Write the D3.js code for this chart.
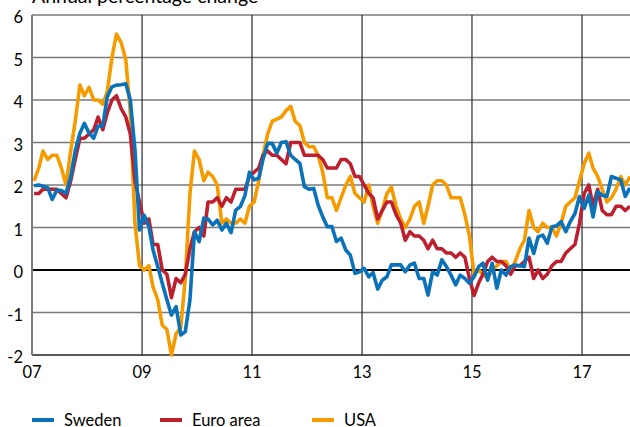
<!DOCTYPE html>
<html>
<head>
<meta charset="utf-8">
<script src="https://cdn.jsdelivr.net/npm/d3@7"></script>
<style>
  html, body { margin: 0; padding: 0; background: #fff; }
  svg { display: block; font-family: Lato, "Open Sans", sans-serif; }
</style>
</head>
<body>
<div id="chart"></div>
<script>
// ============================================================
// Inflation: Sweden / Euro area / USA, annual percentage change
// monthly data, Jan 2007 - Nov 2017
// ============================================================

const seriesNames = ['Sweden', 'Euro area', 'USA'];
const seriesColors = ['#0a72b8', '#bd1f2e', '#f59b00'];

const yTicks = [-2, -1, 0, 1, 2, 3, 4, 5, 6];
const xTickYears = [2007, 2009, 2011, 2013, 2015, 2017];
const xTickLabels = ['07', '09', '11', '13', '15', '17'];

const sweden = [
  1.98, 2.00, 1.97, 1.94, 1.66, 1.88, 1.87, 1.80, 2.20, 2.80, 3.22, 3.45,
  3.22, 3.10, 3.39, 3.39, 4.08, 4.31, 4.35, 4.36, 4.38, 4.00, 2.82, 0.94,
  1.29, 1.02, 0.47, 0.08, -0.31, -0.70, -1.06, -0.86, -1.53, -1.45, -0.70, 0.90,
  0.67, 1.22, 1.20, 1.06, 1.17, 0.94, 1.10, 0.88, 1.41, 1.49, 1.75, 2.30,
  2.12, 2.16, 2.60, 2.98, 2.98, 2.75, 3.00, 3.02, 2.70, 2.60, 2.51, 1.96,
  1.90, 1.92, 1.53, 1.25, 1.02, 1.02, 0.67, 0.75, 0.47, 0.35, -0.08, -0.04,
  0.04, -0.16, -0.06, -0.45, -0.24, -0.16, 0.12, 0.12, 0.12, -0.04, 0.12, 0.16,
  -0.20, -0.20, -0.59, -0.04, -0.12, 0.24, 0.08, -0.12, -0.35, -0.12, -0.20, -0.31,
  -0.16, 0.08, 0.16, -0.24, 0.16, -0.43, 0.00, -0.12, 0.08, 0.12, 0.10, 0.08,
  0.75, 0.39, 0.78, 0.82, 0.63, 1.02, 1.04, 1.14, 0.90, 1.14, 1.33, 1.73,
  1.45, 1.76, 1.25, 1.84, 1.76, 1.73, 2.20, 2.16, 2.12, 1.73, 1.93
];

const euroArea = [
  1.8, 1.8, 1.9, 1.9, 1.9, 1.9, 1.8, 1.7, 2.1, 2.6, 3.1, 3.1,
  3.2, 3.3, 3.6, 3.3, 3.7, 4.0, 4.1, 3.8, 3.6, 3.2, 2.1, 1.6,
  1.1, 1.2, 0.6, 0.6, 0.0, -0.1, -0.65, -0.2, -0.3, -0.1, 0.5, 0.9,
  1.0, 0.8, 1.6, 1.6, 1.7, 1.5, 1.7, 1.6, 1.9, 1.9, 1.9, 2.2,
  2.3, 2.4, 2.7, 2.8, 2.7, 2.7, 2.6, 2.5, 3.0, 3.0, 3.0, 2.7,
  2.7, 2.7, 2.7, 2.6, 2.4, 2.4, 2.4, 2.6, 2.6, 2.5, 2.2, 2.2,
  2.0, 1.8, 1.7, 1.2, 1.4, 1.6, 1.6, 1.3, 1.1, 0.7, 0.9, 0.8,
  0.8, 0.7, 0.5, 0.7, 0.5, 0.5, 0.4, 0.4, 0.3, 0.4, 0.3, -0.2,
  -0.6, -0.3, -0.1, 0.2, 0.3, 0.2, 0.2, 0.1, -0.1, 0.1, 0.1, 0.2,
  0.3, -0.2, 0.0, -0.2, -0.1, 0.1, 0.2, 0.2, 0.4, 0.5, 0.6, 1.1,
  1.8, 2.0, 1.5, 1.9, 1.4, 1.3, 1.3, 1.5, 1.5, 1.4, 1.5
];

const usa = [
  2.1, 2.4, 2.8, 2.6, 2.7, 2.7, 2.4, 2.0, 2.8, 3.5, 4.35, 4.1,
  4.3, 4.0, 4.0, 3.9, 4.2, 5.0, 5.55, 5.35, 4.95, 3.7, 1.1, 0.1,
  0.0, 0.1, -0.4, -0.7, -1.3, -1.4, -2.0, -1.5, -1.35, -0.2, 1.8, 2.8,
  2.6, 2.1, 2.3, 2.2, 2.0, 1.1, 1.2, 1.1, 1.1, 1.2, 1.1, 1.5,
  1.6, 2.1, 2.7, 3.2, 3.5, 3.55, 3.6, 3.75, 3.85, 3.5, 3.4, 3.0,
  2.9, 2.9, 2.7, 2.3, 1.7, 1.7, 1.4, 1.7, 2.0, 2.2, 1.8, 1.7,
  1.6, 2.0, 1.5, 1.1, 1.4, 1.8, 1.95, 1.5, 1.2, 1.0, 1.2, 1.5,
  1.6, 1.1, 1.5, 2.0, 2.1, 2.1, 2.0, 1.7, 1.7, 1.7, 1.3, 0.8,
  -0.1, 0.0, -0.1, -0.2, 0.0, 0.1, 0.2, 0.2, 0.0, 0.2, 0.5, 0.7,
  1.4, 1.0, 0.9, 1.1, 1.0, 1.0, 0.8, 1.1, 1.5, 1.6, 1.7, 2.1,
  2.5, 2.75, 2.4, 2.2, 1.9, 1.6, 1.7, 1.9, 2.2, 2.0, 2.2
];

const seriesValues = [sweden, euroArea, usa];

function drawChart() {
  const WIDTH = 630, HEIGHT = 427;
  const M = { left: 32, top: 15, bottom: 355, right: 630 };

  const svg = d3.select('#chart')
    .append('svg')
    .attr('width', WIDTH)
    .attr('height', HEIGHT);

  // 월별 날짜 (mid-month)
  const dates = sweden.map((_, i) => new Date(2007, i, 15));

  const x = d3.scaleTime()
    .domain([new Date(2007, 0, 1), new Date(2018, 0, 1)])
    .range([M.left, M.left + 11 * 55]);

  const y = d3.scaleLinear()
    .domain([-2, 6])
    .range([M.bottom, M.top]);

  // clip to plot area
  svg.append('defs').append('clipPath')
    .attr('id', 'plot-clip')
    .append('rect')
    .attr('x', M.left).attr('y', M.top - 2)
    .attr('width', M.right - M.left).attr('height', M.bottom - M.top + 4);

  // horizontal grid
  svg.append('g')
    .selectAll('line')
    .data(yTicks)
    .join('line')
    .attr('x1', M.left).attr('x2', WIDTH)
    .attr('y1', d => y(d)).attr('y2', d => y(d))
    .attr('stroke', d => d === 0 ? '#000' : (d === -2 ? '#222' : '#7a7a7a'))
    .attr('stroke-width', d => d === 0 ? 1.8 : 1.5);

  // vertical grid
  svg.append('g')
    .selectAll('line')
    .data(xTickYears.slice(1))
    .join('line')
    .attr('x1', d => x(new Date(d, 0, 1))).attr('x2', d => x(new Date(d, 0, 1)))
    .attr('y1', M.top).attr('y2', M.bottom)
    .attr('stroke', '#2a2a2a')
    .attr('stroke-width', 1.2);

  // left axis line
  svg.append('line')
    .attr('x1', M.left).attr('x2', M.left)
    .attr('y1', M.top).attr('y2', M.bottom)
    .attr('stroke', '#7a7a7a')
    .attr('stroke-width', 2);

  // y tick labels
  svg.append('g')
    .selectAll('text')
    .data(yTicks)
    .join('text')
    .attr('x', 23)
    .attr('y', d => y(d) + 8)
    .attr('text-anchor', 'end')
    .attr('font-size', 16.5)
    .attr('fill', '#000')
    .text(d => d);

  // x tick labels
  svg.append('g')
    .selectAll('text')
    .data(xTickYears)
    .join('text')
    .attr('x', d => x(new Date(d, 0, 1)))
    .attr('y', 378)
    .attr('text-anchor', 'middle')
    .attr('font-size', 16.5)
    .attr('fill', '#000')
    .text((d, i) => xTickLabels[i]);

  // title (cut off at the top, as in the original)
  svg.append('text')
    .attr('x', 32).attr('y', 3)
    .attr('font-size', 19.5)
    .attr('fill', '#000')
    .text('Annual percentage change');

  // lines: USA below, Sweden on top
  const line = d3.line()
    .x((d, i) => x(dates[i]))
    .y(d => y(d));

  const order = [2, 1, 0];
  svg.append('g')
    .attr('clip-path', 'url(#plot-clip)')
    .selectAll('path')
    .data(order)
    .join('path')
    .attr('d', k => line(seriesValues[k]))
    .attr('fill', 'none')
    .attr('stroke', k => seriesColors[k])
    .attr('stroke-width', 3.6)
    .attr('stroke-linejoin', 'round');

  // legend
  const legendX = [32, 160, 312];
  const legend = svg.append('g')
    .selectAll('g')
    .data(seriesNames)
    .join('g')
    .attr('transform', (d, i) => `translate(${legendX[i]}, 420)`);

  legend.append('line')
    .attr('x1', 0).attr('x2', 22)
    .attr('stroke', (d, i) => seriesColors[i])
    .attr('stroke-width', 4);

  legend.append('text')
    .attr('x', 32).attr('y', 5.5)
    .attr('font-size', 16.5)
    .attr('fill', '#000')
    .text(d => d);
}

drawChart();
</script>
</body>
</html>
